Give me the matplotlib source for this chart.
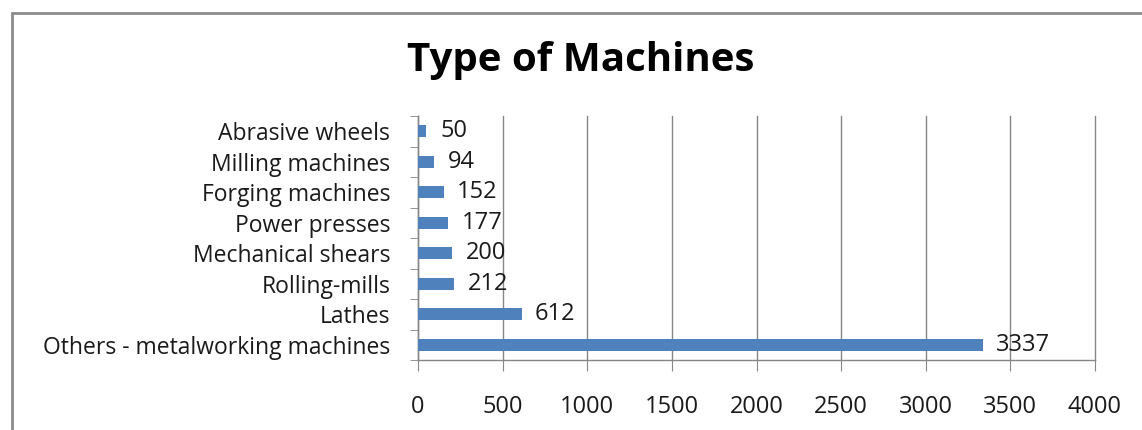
import matplotlib.pyplot as plt
from matplotlib.patches import Rectangle

categories = ['Others - metalworking machines', 'Lathes', 'Rolling-mills',
              'Mechanical shears', 'Power presses', 'Forging machines',
              'Milling machines', 'Abrasive wheels']
values = [3337, 612, 212, 200, 177, 152, 94, 50]
x_ticks = [0, 500, 1000, 1500, 2000, 2500, 3000, 3500, 4000]

plt.rcParams['font.family'] = ['Open Sans', 'DejaVu Sans']

fig = plt.figure(figsize=(11.42, 4.30), dpi=100)
ax = fig.add_axes([418 / 1142, 1 - 360 / 430, 677 / 1142, 244 / 430])

# outer chart frame (only left and top edges show in the crop)
fig.patches.append(Rectangle((12 / 1142, -0.1), 1.2, 1 - 13 / 430 + 0.1,
                             transform=fig.transFigure, fill=False,
                             edgecolor='#8c8c8c', linewidth=2))

pos = range(len(categories))
ax.barh(pos, values, height=0.4, color='#4f81bd', zorder=3)
for p, v in zip(pos, values):
    ax.text(v + 80, p, str(v), va='center', ha='left', fontsize=17, color='#1a1a1a', zorder=4)

ax.set_xlim(0, 4000)
ax.set_ylim(-0.5, len(categories) - 0.5)
ax.set_xticks(x_ticks)
ax.set_yticks(list(pos))
ax.set_yticklabels(categories)
ax.set_yticks([p - 0.5 for p in range(len(categories) + 1)], minor=True)
ax.tick_params(axis='y', which='major', length=0, pad=20, labelsize=16.5, labelcolor='#1a1a1a')
ax.tick_params(axis='y', which='minor', length=6, color='#868686', direction='out')
ax.tick_params(axis='x', length=8, color='#868686', pad=17, labelsize=17, labelcolor='#1a1a1a')
ax.grid(axis='x', color='#868686', linewidth=1, zorder=0)
for gl in ax.get_xgridlines():
    gl.set_clip_on(False)

for s in ['top', 'right']:
    ax.spines[s].set_visible(False)
for s in ['left', 'bottom']:
    ax.spines[s].set_color('#868686')
    ax.spines[s].set_linewidth(1)

fig.text(581 / 1142, 1 - 61 / 430, 'Type of Machines', ha='center', va='center',
         fontsize=29, fontweight='bold', color='black')

fig.savefig('out.png', dpi=100)
